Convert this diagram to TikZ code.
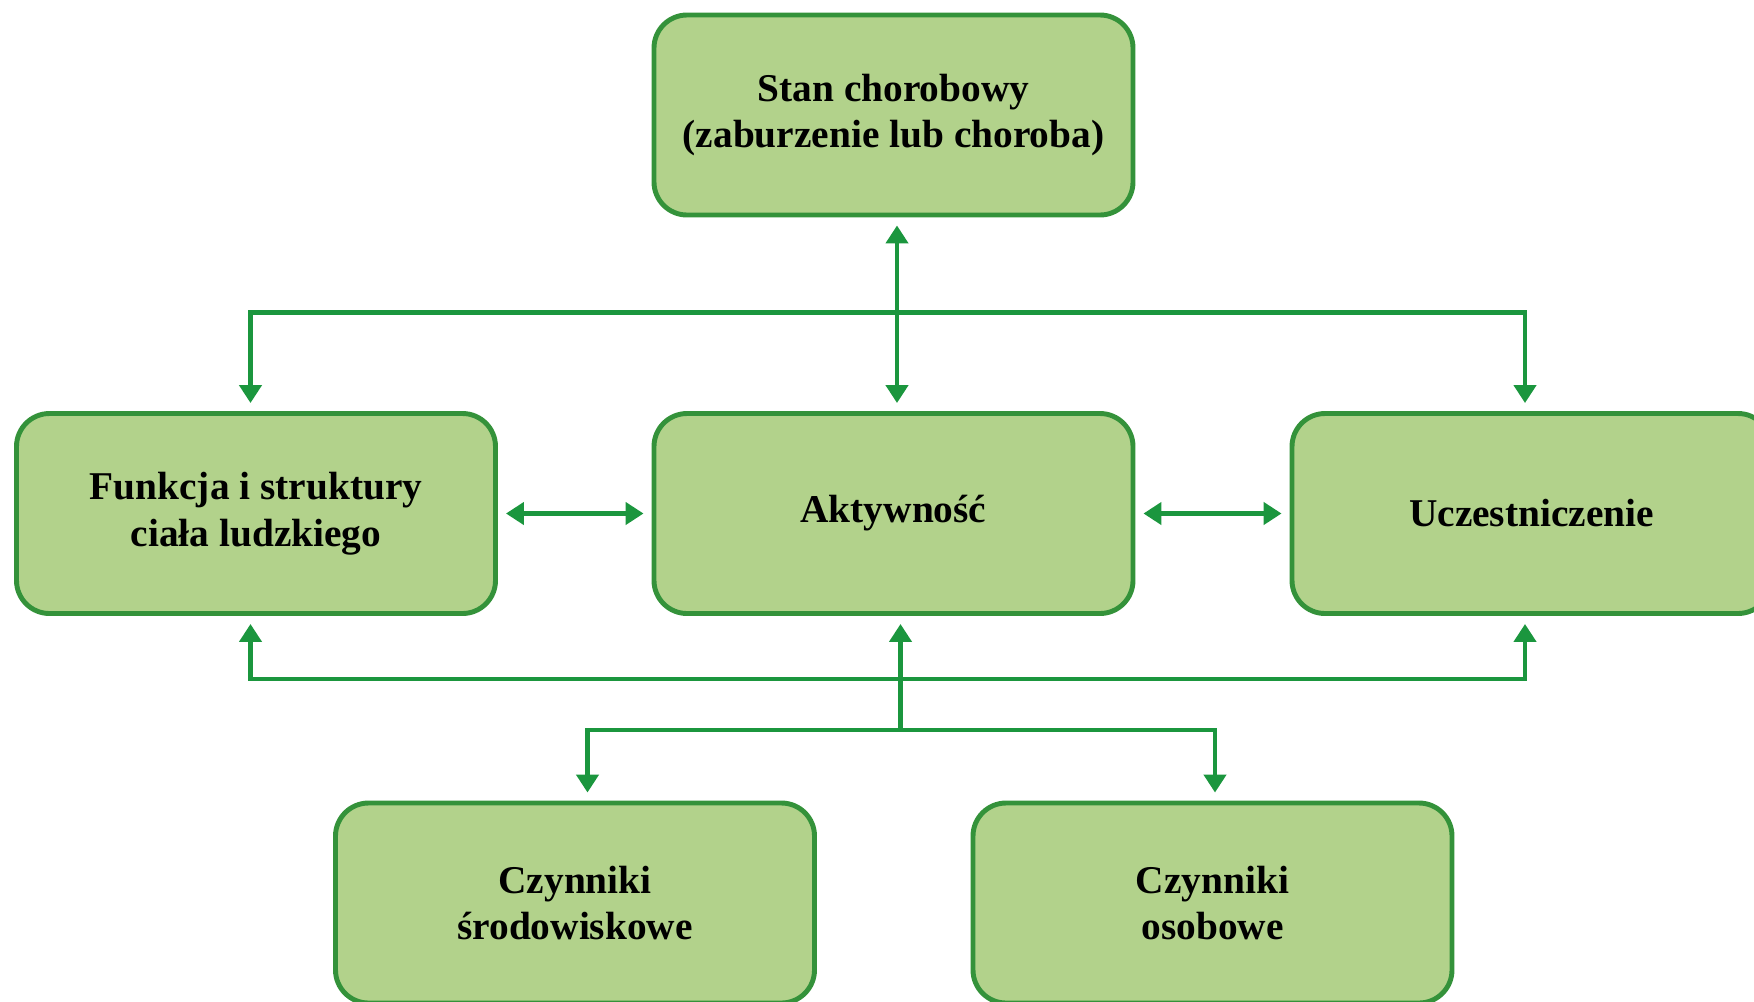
\documentclass[tikz,border=0pt]{standalone}
\usepackage{fontspec}
\setmainfont{Liberation Serif}
\usepackage{xcolor}
\usepackage{tikz}
\usetikzlibrary{arrows.meta,calc}
\definecolor{boxfill}{RGB}{178, 210, 139}
\definecolor{boxline}{RGB}{52, 146, 58}
\definecolor{arrowgreen}{RGB}{27, 150, 62}

\begin{document}
\begin{tikzpicture}[
            box/.style = {draw=boxline, fill=boxfill, line width=2.8pt, rounded corners=0.66cm,
                          minimum width=9.58cm, minimum height=4cm, align=center,
                          font=\bfseries\fontsize{22.4}{26.7}\selectfont},
            arr/.style = {draw=arrowgreen, line width=2.5pt, -{Triangle[length=0.36cm, width=0.44cm]}, shorten >=0.16cm},
          biarr/.style = {arr, {Triangle[length=0.36cm, width=0.44cm]}-{Triangle[length=0.36cm, width=0.44cm]}, shorten <=0.16cm}]
        \useasboundingbox (0,0) rectangle (35.08,-20.02);
        \clip (0,0) rectangle (35.08,-20.02);
        \node[box] (stan)    at (17.87,-2.30)  {Stan chorobowy\\(zaburzenie lub choroba)};
        \node[box] (funkcja) at (5.12,-10.27)  {Funkcja i struktury\\ciała ludzkiego};
        \node[box] (aktyw)   at (17.87,-10.27) {Aktywność};
        \node[box] (uczest)  at (30.63,-10.27) {Uczestniczenie};
        \node[box] (srodow)  at (11.50,-18.06) {Czynniki\\środowiskowe};
        \node[box] (osob)    at (24.25,-18.06) {Czynniki\\osobowe};

        \coordinate (topbus) at ($(stan.south)!0.49!(aktyw.north)$);
        \coordinate (lowbus) at (17.87,-13.58);
        \coordinate (fork)   at (18.01,-14.60);

        \draw[biarr] ([xshift=0.07cm]stan.south) -- ([xshift=0.07cm]aktyw.north);
        \draw[arr] (topbus) -| ([xshift=-0.11cm]funkcja.north);
        \draw[arr] (topbus) -| ([xshift=-0.13cm]uczest.north);
        \draw[biarr] (funkcja.east) -- (aktyw.west);
        \draw[biarr] (aktyw.east) -- (uczest.west);
        \draw[arr] (fork) -- (fork |- aktyw.south);
        \draw[arr] (lowbus) -| ([xshift=-0.11cm]funkcja.south);
        \draw[arr] (lowbus) -| ([xshift=-0.13cm]uczest.south);
        \draw[arr] (fork) -| ([xshift=0.25cm]srodow.north);
        \draw[arr] (fork) -| ([xshift=0.05cm]osob.north);
\end{tikzpicture}
\end{document}
